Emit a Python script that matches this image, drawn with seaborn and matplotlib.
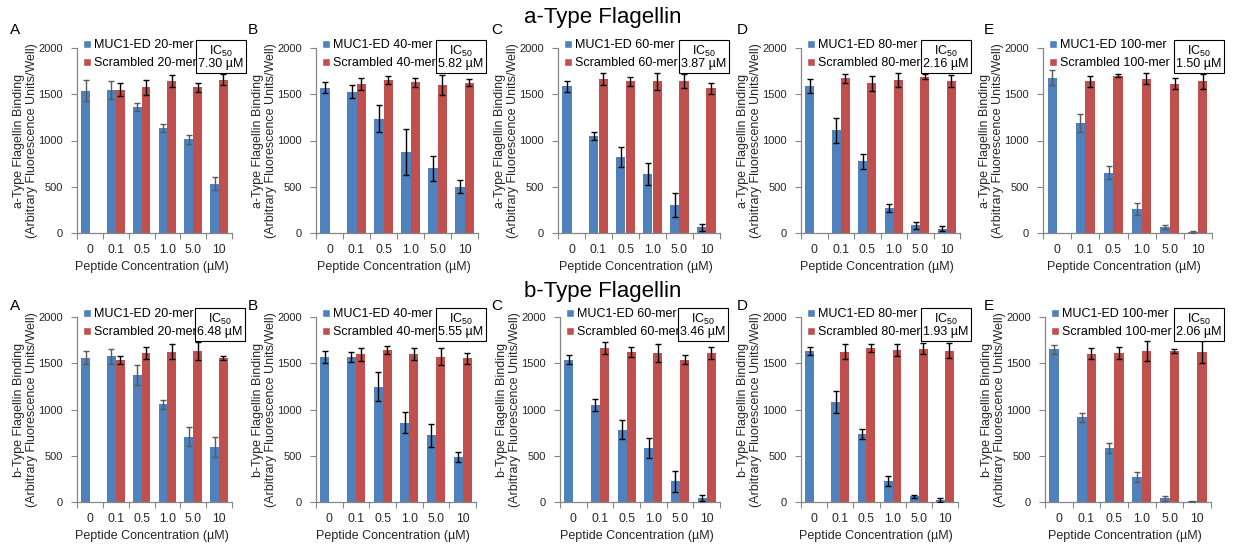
import numpy as np
import pandas as pd
import matplotlib
matplotlib.use("Agg")
import matplotlib.pyplot as plt
import seaborn as sns
from matplotlib.patches import Patch

sns.set_theme(style="white")
plt.rcParams["font.family"] = ["Liberation Sans", "DejaVu Sans"]
plt.rcParams["mathtext.fontset"] = "custom"
plt.rcParams["mathtext.rm"] = "Liberation Sans"
plt.rcParams["text.color"] = "black"

# ---------------- data ----------------
concentrations = ["0", "0.1", "0.5", "1.0", "5.0", "10"]
peptide_lengths = [20, 40, 60, 80, 100]
panel_letters = ["A", "B", "C", "D", "E"]

# a-type flagellin binding (mean, error) per peptide length
a_muc1 = [
    [1540, 1548, 1361, 1138, 1013, 535],
    [1571, 1527, 1236, 873, 698, 502],
    [1586, 1049, 818, 638, 299, 61],
    [1589, 1109, 775, 273, 84, 47],
    [1677, 1192, 654, 259, 61, 11],
]
a_muc1_err = [
    [110, 95, 45, 45, 50, 70],
    [60, 72, 147, 247, 136, 73],
    [58, 47, 108, 115, 130, 38],
    [73, 133, 78, 45, 40, 27],
    [81, 97, 72, 61, 22, 11],
]
a_scrambled = [
    [0, 1548, 1573, 1648, 1573, 1659],
    [0, 1611, 1651, 1629, 1604, 1622],
    [0, 1665, 1640, 1640, 1640, 1564],
    [0, 1673, 1618, 1655, 1691, 1644],
    [0, 1641, 1702, 1670, 1616, 1641],
]
a_scrambled_err = [
    [0, 70, 85, 65, 50, 62],
    [0, 70, 44, 49, 107, 38],
    [0, 67, 47, 90, 76, 56],
    [0, 51, 82, 73, 29, 62],
    [0, 61, 16, 63, 60, 79],
]
a_ic50 = [7.30, 5.82, 3.87, 2.16, 1.50]

# b-type flagellin binding (mean, error) per peptide length
b_muc1 = [
    [1559, 1573, 1378, 1056, 705, 590],
    [1571, 1564, 1244, 858, 724, 487],
    [1539, 1045, 782, 584, 223, 43],
    [1633, 1080, 735, 225, 62, 25],
    [1649, 914, 581, 269, 43, 7],
]
b_muc1_err = [
    [72, 85, 108, 49, 101, 108],
    [65, 53, 157, 113, 124, 53],
    [49, 65, 101, 103, 112, 30],
    [40, 118, 58, 53, 18, 22],
    [45, 45, 54, 57, 27, 5],
]
b_scrambled = [
    [0, 1537, 1609, 1627, 1631, 1555],
    [0, 1596, 1640, 1596, 1571, 1553],
    [0, 1665, 1622, 1611, 1539, 1611],
    [0, 1625, 1662, 1644, 1655, 1636],
    [0, 1602, 1613, 1631, 1631, 1624],
]
b_scrambled_err = [
    [0, 42, 62, 76, 100, 22],
    [0, 71, 44, 64, 91, 62],
    [0, 63, 54, 96, 45, 67],
    [0, 80, 42, 69, 60, 80],
    [0, 59, 68, 111, 18, 120],
]
b_ic50 = [6.48, 5.55, 3.46, 1.93, 2.06]

# ---------------- styling / layout ----------------
BLUE = "#4F81BD"
RED = "#C0504D"
SPINE = "#868686"
W, H = 1234, 548

# axes extents in pixels: (left, right) per panel, (top, bottom) per row
row_x = [
    [(77, 232), (316, 478), (558, 720), (801, 960), (1043, 1212)],
    [(77, 232), (316, 476), (560, 720), (801, 958), (1045, 1211)],
]
row_y = [(48, 233), (317, 502)]
box_centers = [
    [(221, 57), (461, 57), (704, 57), (946, 57), (1199, 57)],
    [(220, 325), (461, 325), (703, 325), (946, 325), (1199, 325)],
]
letter_x = [15, 253, 497, 742, 989]
letter_y = [30, 306]
title_y = [17, 292]
muc1_err_colors = ["#595959", "black", "black", "black", "#595959"]

fig = plt.figure(figsize=(W / 100, H / 100), dpi=100)


def draw_panel(ax, muc1, muc1_err, scr, scr_err, length, flag_type, err_color):
    names = [f"MUC1-ED {length}-mer", f"Scrambled {length}-mer"]
    df = pd.DataFrame({
        "Concentration": concentrations * 2,
        "Binding": list(muc1) + list(scr),
        "Peptide": [names[0]] * len(concentrations) + [names[1]] * len(concentrations),
    })
    sns.barplot(data=df, x="Concentration", y="Binding", hue="Peptide",
                order=concentrations, hue_order=names, palette=[BLUE, RED],
                saturation=1, width=0.68, errorbar=None, legend=False,
                linewidth=0, edgecolor="none", ax=ax)
    for cont, errs, ecol in zip(ax.containers[:2], [muc1_err, scr_err], [err_color, "black"]):
        xs, ys, es = [], [], []
        for bar, e in zip(cont, errs):
            if e > 0:
                xs.append(bar.get_x() + bar.get_width() / 2)
                ys.append(bar.get_height())
                es.append(e)
        ax.errorbar(xs, ys, yerr=es, fmt="none", ecolor=ecol, elinewidth=1,
                    capsize=2.2, capthick=1, zorder=3)

    ax.set_ylim(0, 2000)
    ax.set_xlim(-0.5, len(concentrations) - 0.5)
    ax.set_yticks(np.arange(0, 2001, 500))
    ax.set_xticks(np.arange(-0.5, len(concentrations)), labels=[""] * (len(concentrations) + 1))
    ax.set_xticks(np.arange(len(concentrations)), labels=concentrations, minor=True)
    ax.tick_params(axis="x", which="major", direction="out", length=4, width=0.8,
                   color=SPINE, bottom=True)
    ax.tick_params(axis="x", which="minor", length=0, pad=8, labelsize=8.7, bottom=True)
    ax.tick_params(axis="y", direction="out", length=4, width=0.8, color=SPINE,
                   pad=6, labelsize=8, left=True)
    for side in ("top", "right"):
        ax.spines[side].set_visible(False)
    for side in ("left", "bottom"):
        ax.spines[side].set_color(SPINE)
        ax.spines[side].set_linewidth(0.9)

    bb = ax.get_position()
    ax_w_px = bb.width * W
    ax_h_px = bb.height * H
    ax.set_xlabel("Peptide Concentration (µM)", fontsize=9)
    ax.xaxis.set_label_coords(0.48, -28 / ax_h_px)
    ax.set_ylabel(f"{flag_type}-Type Flagellin Binding\n(Arbitrary Fluorescence Units/Well)",
                  fontsize=9, linespacing=1.1)
    ax.yaxis.set_label_coords(-39 / ax_w_px, 0.5)

    handles = [Patch(facecolor=BLUE, label=names[0]), Patch(facecolor=RED, label=names[1])]
    ax.legend(handles=handles, loc="upper left",
              bbox_to_anchor=(6 / ax_w_px, 1 + 9 / ax_h_px),
              frameon=False, fontsize=9, borderpad=0, borderaxespad=0,
              handlelength=0.6, handleheight=0.6, handletextpad=0.25,
              labelspacing=0.5)


rows = [
    ("a", a_muc1, a_muc1_err, a_scrambled, a_scrambled_err, a_ic50),
    ("b", b_muc1, b_muc1_err, b_scrambled, b_scrambled_err, b_ic50),
]

for r, (ftype, muc1, muc1_err, scr, scr_err, ic50) in enumerate(rows):
    top, bottom = row_y[r]
    for i, length in enumerate(peptide_lengths):
        left, right = row_x[r][i]
        ax = fig.add_axes([left / W, 1 - bottom / H, (right - left) / W, (bottom - top) / H])
        draw_panel(ax, muc1[i], muc1_err[i], scr[i], scr_err[i], length, ftype,
                   muc1_err_colors[i])
        cx, cy = box_centers[r][i]
        fig.text(cx / W, 1 - cy / H, f"IC$_{{\\mathregular{{50}}}}$\n{ic50[i]:.2f} µM",
                 ha="center", va="center", multialignment="center", fontsize=9,
                 linespacing=0.9,
                 bbox=dict(boxstyle="square,pad=0.2", fc="white", ec="black", lw=0.8))
        fig.text(letter_x[i] / W, 1 - letter_y[r] / H, panel_letters[i],
                 ha="center", va="center", fontsize=11)
    fig.text(603 / W, 1 - title_y[r] / H, f"{ftype}-Type Flagellin",
             ha="center", va="center", fontsize=16)

fig.savefig("out.png", dpi=100, facecolor="white")
